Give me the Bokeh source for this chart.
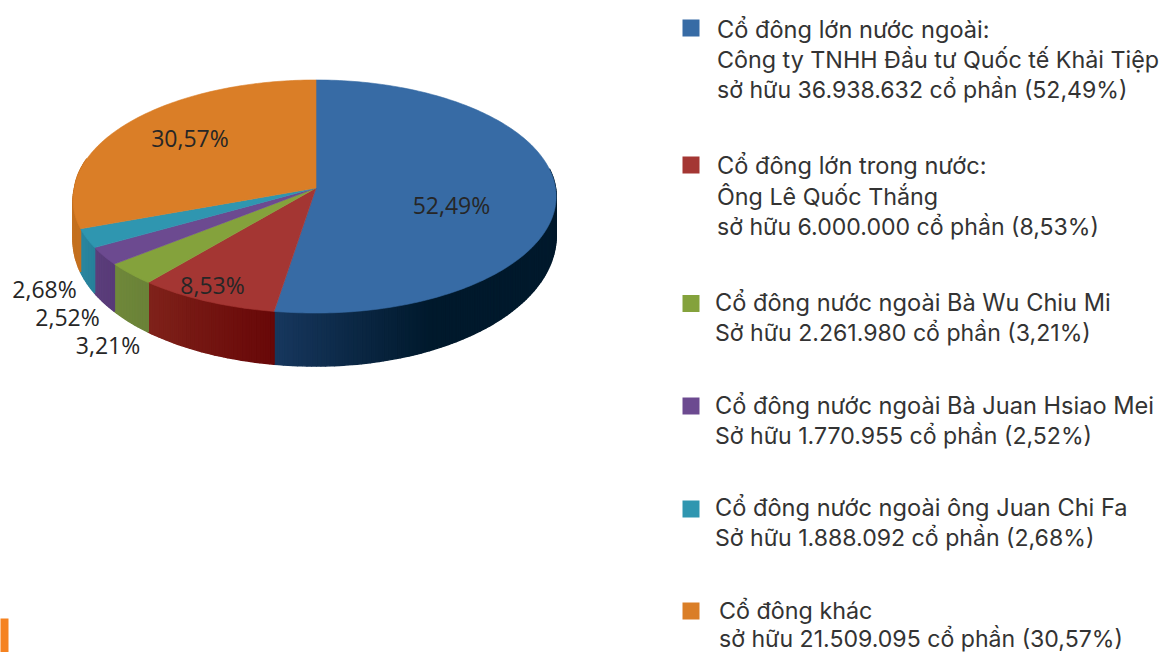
import math
from bokeh.plotting import figure
from bokeh.models import Range1d, ColumnDataSource
from bokeh.core.properties import value
from bokeh.embed import file_html
from bokeh.resources import INLINE

# Data
categories = ["Cổ đông lớn nước ngoài", "Cổ đông lớn trong nước", "Bà Wu Chiu Mi",
              "Bà Juan Hsiao Mei", "ông Juan Chi Fa", "Cổ đông khác"]
shares_pct = [52.49, 8.53, 3.21, 2.52, 2.68, 30.57]
pct_labels = ["52,49%", "8,53%", "3,21%", "2,52%", "2,68%", "30,57%"]
legend_lines = [
    ["Cổ đông lớn nước ngoài:", "Công ty TNHH Đầu tư Quốc tế Khải Tiệp", "sở hữu 36.938.632 cổ phần (52,49%)"],
    ["Cổ đông lớn trong nước:", "Ông Lê Quốc Thắng", "sở hữu 6.000.000 cổ phần (8,53%)"],
    ["Cổ đông nước ngoài Bà Wu Chiu Mi", "Sở hữu 2.261.980 cổ phần (3,21%)"],
    ["Cổ đông nước ngoài Bà Juan Hsiao Mei", "Sở hữu 1.770.955 cổ phần (2,52%)"],
    ["Cổ đông nước ngoài ông Juan Chi Fa", "Sở hữu 1.888.092 cổ phần (2,68%)"],
    ["Cổ đông khác", "sở hữu 21.509.095 cổ phần (30,57%)"],
]

# Styles / layout
top_colors = ["#376ba5", "#a43633", "#84a23c", "#6c4a90", "#2f96b0", "#da7e27"]
wall_left = ["#17375e", "#80231b", "#70893b", "#5c3f7c", "#2a87a0", "#c4701f"]
wall_right = ["#00192c", "#680808", "#6a8238", "#583a78", "#27809a", "#c4701f"]
label_pos = [(451, 204), (212, 284), (107.5, 344), (67, 316), (44, 288), (189.5, 137)]
legend_x = [716.5, 716.5, 714.5, 714.5, 714.5, 718.5]
legend_y = [[28.5, 58.5, 89.5], [165, 195.5, 226.5], [301.5, 332.5], [404.5, 435.5], [506.5, 537.5], [609.5, 638]]
legend_px = [[23.6, 23.3, 23.1], [23.6, 23.3, 23.1], [23.6, 23.1], [23.6, 23.1], [23.6, 23.1], [23.3, 23.1]]
square_y = [27.5, 164.5, 303, 405.5, 508.5, 610.5]
CX, CY, R_LEFT, R_RIGHT, RY, K = 315.5, 187.5, 241.5, 239.5, 115.9, 0.073


def project(theta_deg):
    t = math.radians(theta_deg)
    s, c = math.sin(t), math.cos(t)
    d = 1 + K * c
    r = R_RIGHT if s >= 0 else R_LEFT
    if s < 0 and c < 0:
        r *= 1 + 0.035 * abs(c)  # the near left rim bulges slightly in the source
    return CX + r * s / d, CY - RY * c / d, c


def depth(c):
    return 38 + 15 * abs(c)


def mix(a, b, f):
    f = max(0, min(1, f))
    ca = [int(a[i:i + 2], 16) for i in (1, 3, 5)]
    cb = [int(b[i:i + 2], 16) for i in (1, 3, 5)]
    return "#%02x%02x%02x" % tuple(round(x + (y - x) * f) for x, y in zip(ca, cb))


total = sum(shares_pct)
bounds = [0]
for v in shares_pct:
    bounds.append(bounds[-1] + v / total * 360)

p = figure(width=1166, height=652, x_range=Range1d(0, 1166), y_range=Range1d(652, 0),
           output_backend="svg", toolbar_location=None, min_border=0,
           margin=(0, 0, 0, 0))
p.axis.visible = False
p.grid.visible = False
p.outline_line_color = None
p.background_fill_color = "white"
p.border_fill_color = "white"

# Side wall, narrow strips shaded along each slice
wx, wy, wc = [], [], []
for i in range(len(shares_pct)):
    a0, a1 = bounds[i], bounds[i + 1]
    n = max(2, int((a1 - a0) / 1.0))
    for j in range(n):
        t0 = a0 + (a1 - a0) * j / n
        t1 = a0 + (a1 - a0) * (j + 1) / n
        if (t0 + t1) / 2 < 80 or (t0 + t1) / 2 > 285:
            continue
        x0, y0, c0 = project(t0)
        x1, y1, c1 = project(t1)
        wx.append([x0, x1, x1, x0])
        wy.append([y0, y1, y1 + depth(c1), y0 + depth(c0)])
        if i == 0:
            f = (274 - (x0 + x1) / 2) / (274 - 430)
            col = mix(wall_left[0], wall_right[0], f)
        else:
            f = (t0 - a0) / (a1 - a0)
            col = mix(wall_right[i], wall_left[i], f)
        wc.append(col)
p.patches(wx, wy, fill_color=wc, line_color=wc, line_width=1.5)

# Top surface
for i in range(len(shares_pct)):
    a0, a1 = bounds[i], bounds[i + 1]
    n = max(3, int(a1 - a0))
    xs, ys = [CX], [CY]
    for j in range(n + 1):
        x, y, _ = project(a0 + (a1 - a0) * j / n)
        xs.append(x)
        ys.append(y)
    p.patch(xs, ys, fill_color=top_colors[i], line_color=top_colors[i], line_width=0.6)

# Percent labels
p.text(x=[q[0] for q in label_pos], y=[q[1] for q in label_pos], text=pct_labels,
       text_font=value("Open Sans"), text_font_size="23px", text_color="#262626",
       text_align="center", text_baseline="middle")

# Legend
p.rect(x=[690.5] * 6, y=square_y, width=17, height=17, fill_color=top_colors, line_color=None)
for lines, x, ys, sizes in zip(legend_lines, legend_x, legend_y, legend_px):
    for line, y, size in zip(lines, ys, sizes):
        p.text(x=[x], y=[y], text=[line], text_font=value("Inter"), text_font_size=f"{size}px",
               text_color="#333333", text_align="left", text_baseline="middle")

# Orange page marker
p.quad(left=[-2], right=[8], top=[618], bottom=[654], fill_color="#f58220", line_color=None)

open("out.html", "w").write(file_html(p, INLINE))
